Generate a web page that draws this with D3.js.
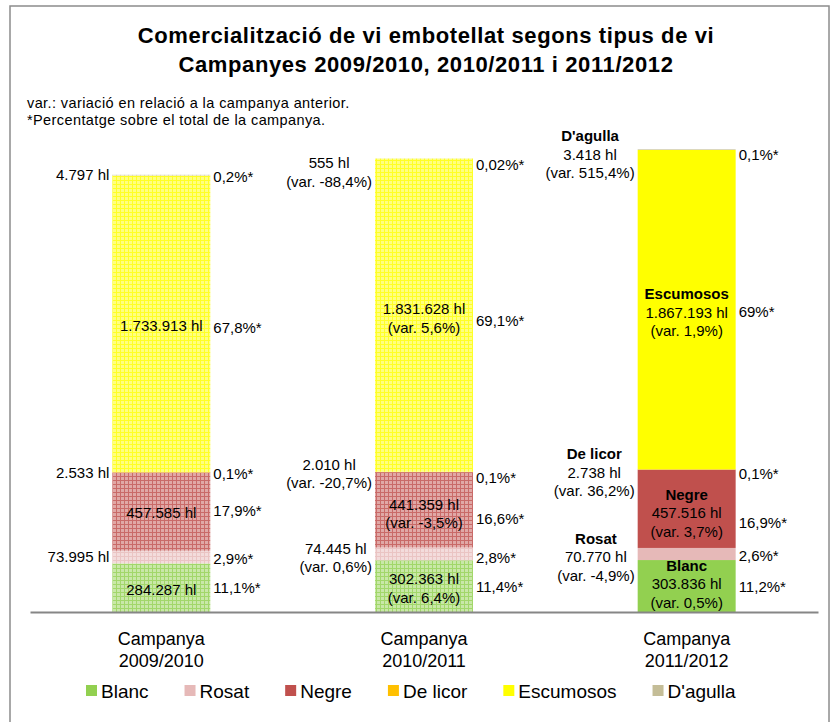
<!DOCTYPE html>
<html>
<head>
<meta charset="utf-8">
<script src="https://cdn.jsdelivr.net/npm/d3@7"></script>
<style>
  body { margin: 0; background: #fff; }
  svg { display: block; font-family: "Liberation Sans", Arial, sans-serif; }
</style>
</head>
<body>
<svg id="chart" width="832" height="722"></svg>
<script>
(function() {
  'use strict';

// data
var campaigns = ['2009/2010', '2010/2011', '2011/2012'];
var series = ['Blanc', 'Rosat', 'Negre', 'De licor', 'Escumosos', "D'agulla"];
var colors = ['#92d050', '#e6b9b8', '#c0504d', '#ffc000', '#ffff00', '#c4bd97'];

var blanc     = [284287, 302363, 303836];
var rosat     = [73995, 74445, 70770];
var negre     = [457585, 441359, 457516];
var deLicor   = [2533, 2010, 2738];
var escumosos = [1733913, 1831628, 1867193];
var agulla    = [4797, 555, 3418];

// variació respecte a la campanya anterior (%)
var blancVar     = [null, 6.4, 0.5];
var rosatVar     = [null, 0.6, -4.9];
var negreVar     = [null, -3.5, 3.7];
var deLicorVar   = [null, -20.7, 36.2];
var escumososVar = [null, 5.6, 1.9];
var agullaVar    = [null, -88.4, 515.4];

// percentatge sobre el total de la campanya
var blancPct     = [11.1, 11.4, 11.2];
var rosatPct     = [2.9, 2.8, 2.6];
var negrePct     = [17.9, 16.6, 16.9];
var deLicorPct   = [0.1, 0.1, 0.1];
var escumososPct = [67.8, 69.1, 69];
var agullaPct    = [0.2, 0.02, 0.1];

var values = [blanc, rosat, negre, deLicor, escumosos, agulla];
var vars = [blancVar, rosatVar, negreVar, deLicorVar, escumososVar, agullaVar];
var pcts = [blancPct, rosatPct, negrePct, deLicorPct, escumososPct, agullaPct];

// label placement: left of bar for the thin segments, inside for the rest
var side = ['in', 'left', 'in', 'left', 'in', 'left'];
var labelNudge = [[2, 2, -2], [0, 4, 3], [1, 4, 4], [0, 2, 3], [2, 3, 3], [0, 14, 5]];
var pctNudge   = [[0, 1, 1], [2, 4, 2], [-1, 9, 14], [1, 6, 4], [4, 6, 2], [2, 6, 5]];

var table = campaigns.map(function(c, i) {
  var row = { campaign: c };
  series.forEach(function(s, j) { row[s] = values[j][i]; });
  return row;
});

var loc = d3.formatLocale({ decimal: ',', thousands: '.', grouping: [3], currency: ['', ''], minus: '-' });
var fmtHl = loc.format(',');
var fmtVar = loc.format('.1f');
function fmtPct(v) { return String(v).replace('.', ',') + '%*'; }

var svg = d3.select('#chart');

// frame
svg.append('rect')
  .attr('x', 10).attr('y', 6)
  .attr('width', 819).attr('height', 740)
  .attr('fill', 'none')
  .attr('stroke', '#8c8c8c')
  .attr('stroke-width', 1.5);

// title
var title = svg.append('text')
  .attr('text-anchor', 'middle')
  .attr('font-size', 22)
  .attr('letter-spacing', 0.6)
  .attr('font-weight', 'bold');
title.append('tspan').attr('x', 426).attr('y', 43).text('Comercialització de vi embotellat segons tipus de vi');
title.append('tspan').attr('x', 426).attr('y', 72).text('Campanyes 2009/2010, 2010/2011 i 2011/2012');

var notes = svg.append('g').attr('font-size', 14.5).attr('letter-spacing', 0.4);
notes.append('text').attr('x', 27).attr('y', 108)
  .text('var.: variació en relació a la campanya anterior.');
notes.append('text').attr('x', 27).attr('y', 125)
  .text('*Percentatge sobre el total de la campanya.');

// scales
var x = d3.scaleBand()
  .domain(campaigns)
  .range([30, 818])
  .paddingInner(0.627)
  .paddingOuter(0.3135);

var y = d3.scaleLinear()
  .domain([0, 3000000])
  .range([612, 99]);

var color = d3.scaleOrdinal().domain(series).range(colors);

// grid patterns for the first two campaigns
var defs = svg.append('defs');
series.forEach(function(s, j) {
  var c = colors[j];
  var p = defs.append('pattern')
    .attr('id', 'grid' + j)
    .attr('patternUnits', 'userSpaceOnUse')
    .attr('width', 4).attr('height', 4);
  p.append('rect').attr('width', 4).attr('height', 4)
    .attr('fill', d3.interpolateRgb('#ffffff', c)(0.5));
  p.append('path').attr('d', 'M0,0.5H4M0.5,0V4')
    .attr('stroke', d3.interpolateRgb('#ffffff', c)(0.85))
    .attr('stroke-width', 1);
});

var stacked = d3.stack().keys(series)(table);

// bars
var layers = svg.append('g').selectAll('g')
  .data(stacked)
  .enter().append('g');

layers.selectAll('rect')
  .data(function(d) { return d.map(function(p, i) { return { key: d.key, j: d.index, i: i, y0: p[0], y1: p[1] }; }); })
  .enter().append('rect')
  .attr('x', function(d) { return x(campaigns[d.i]); })
  .attr('width', x.bandwidth())
  .attr('y', function(d) { return y(d.y1); })
  .attr('height', function(d) { return y(d.y0) - y(d.y1); })
  .attr('fill', function(d) { return d.i < 2 ? 'url(#grid' + d.j + ')' : color(d.key); });

// axis
var axis = svg.append('g')
  .attr('transform', 'translate(0,612)')
  .call(d3.axisBottom(x).tickSize(0).tickPadding(0));
axis.select('.domain').attr('stroke', '#868686').attr('stroke-width', 2);
axis.selectAll('.tick text').remove();
axis.selectAll('.tick').each(function(c) {
  var t = d3.select(this).append('text')
    .attr('fill', '#000')
    .attr('font-size', 18)
    .attr('font-family', '"Liberation Sans", Arial, sans-serif')
    .attr('text-anchor', 'middle');
  t.append('tspan').attr('x', 0).attr('y', 33).text('Campanya');
  t.append('tspan').attr('x', 0).attr('y', 55).text(c);
});

// data labels
var fs = 15, lh = 18.5;
var labels = svg.append('g').attr('font-size', fs).attr('fill', '#000');

stacked.forEach(function(layer) {
  var j = layer.index;
  layer.forEach(function(p, i) {
    var cy = (y(p[0]) + y(p[1])) / 2;
    var lines = [];
    if (i === 2) lines.push({ t: series[j], b: true });
    lines.push({ t: fmtHl(values[j][i]) + ' hl' });
    if (vars[j][i] !== null) lines.push({ t: '(var. ' + fmtVar(vars[j][i]) + '%)' });

    var g = labels.append('g');
    var yc = cy + labelNudge[j][i];
    var y0 = yc - (lines.length - 1) * lh / 2 + fs * 0.35;
    var texts = g.selectAll('text')
      .data(lines)
      .enter().append('text')
      .attr('text-anchor', 'middle')
      .attr('font-weight', function(d) { return d.b ? 'bold' : null; })
      .attr('y', function(d, k) { return y0 + k * lh; })
      .text(function(d) { return d.t; });

    if (side[j] === 'in') {
      texts.attr('x', x(campaigns[i]) + x.bandwidth() / 2);
    } else {
      var maxW = d3.max(texts.nodes(), function(n) { return n.getComputedTextLength(); });
      texts.attr('x', x(campaigns[i]) - 3 - maxW / 2);
    }

    labels.append('text')
      .attr('x', x(campaigns[i]) + x.bandwidth() + 3)
      .attr('y', cy + pctNudge[j][i] + fs * 0.35)
      .text(fmtPct(pcts[j][i]));
  });
});

// legend
var legend = svg.append('g').attr('font-size', 19);
var lx = 86;
series.forEach(function(s, j) {
  var item = legend.append('g').attr('transform', 'translate(' + lx + ',685)');
  item.append('rect').attr('width', 11).attr('height', 11).attr('fill', colors[j]);
  var t = item.append('text').attr('x', 15).attr('y', 13).text(s);
  lx += 15 + t.node().getComputedTextLength() + 36;
});
}());
</script>
</body>
</html>
